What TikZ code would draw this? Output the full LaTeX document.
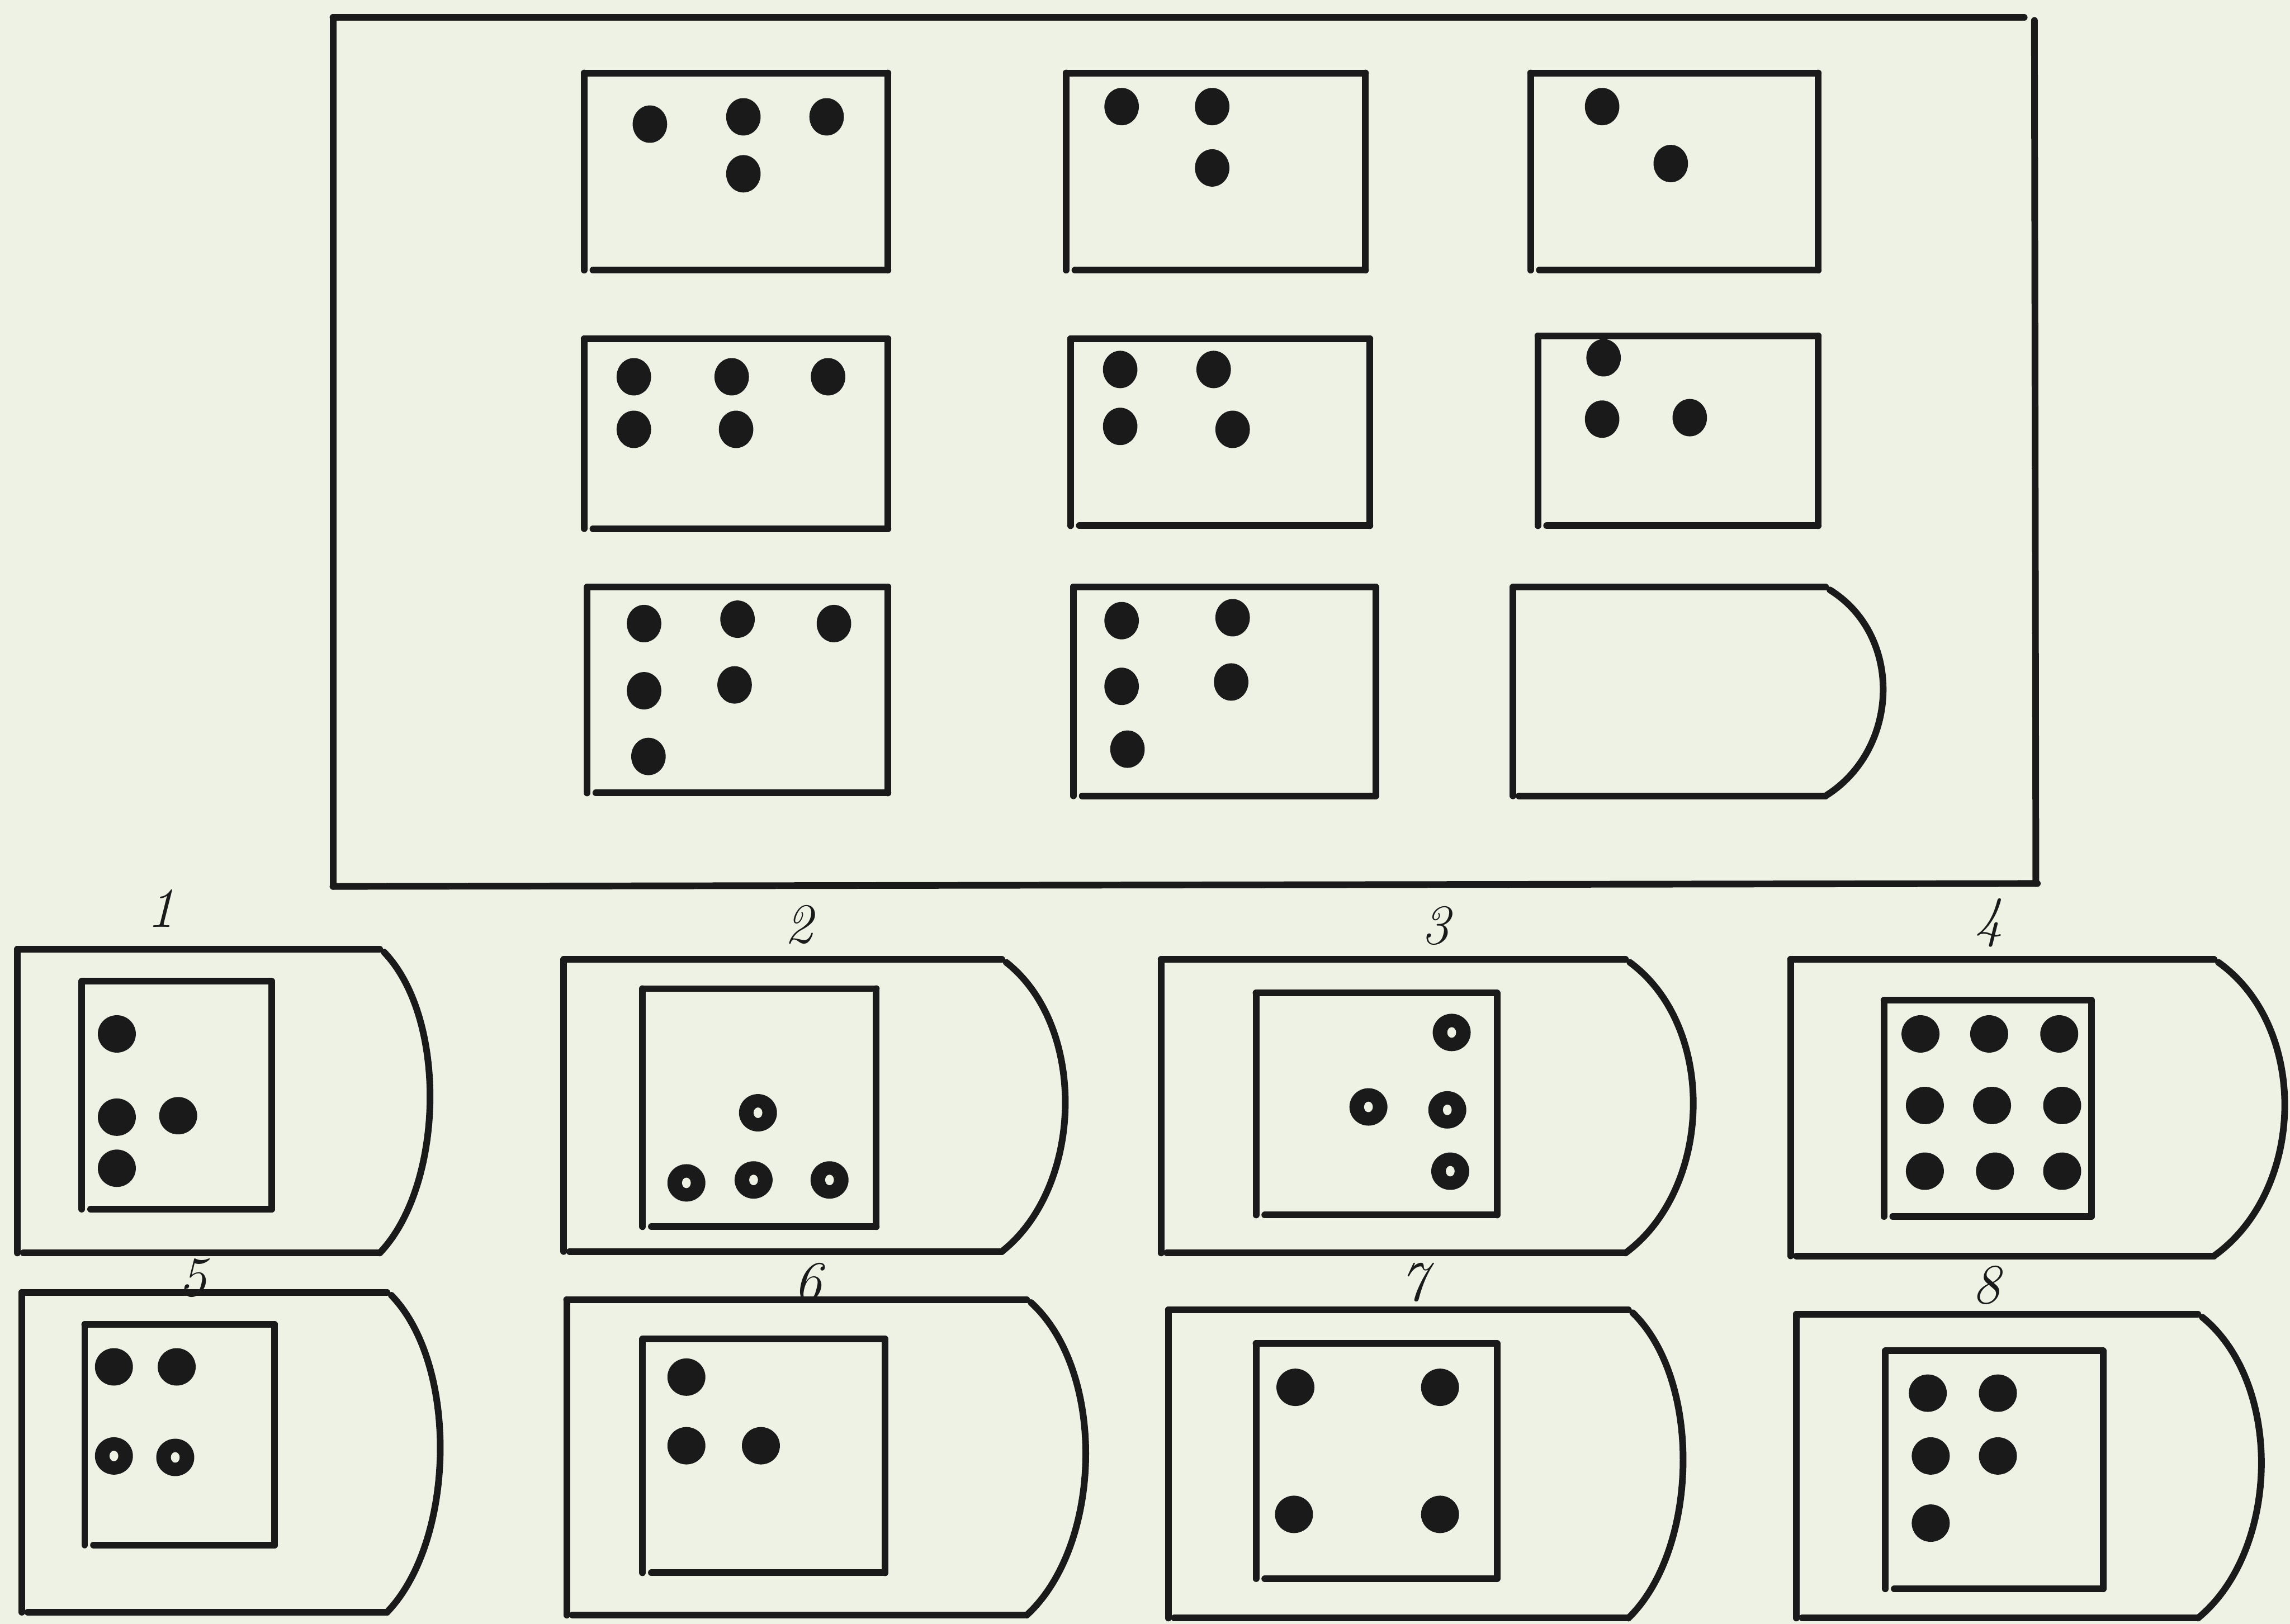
\documentclass[tikz,border=0pt]{standalone}
\usetikzlibrary{calc}
\definecolor{paper}{HTML}{EEF2E4}
\definecolor{ink}{HTML}{1A1A1A}
\tikzset{
  pen/.style={draw=ink, line width=1.3pt, line cap=round},
  dotfill/.style={fill=ink},
  lab/.style={font=\fontsize{11}{12}\selectfont\itshape, text=ink, inner sep=1pt},
}
% cell box: left, top, right, bottom
\newcommand\mcell[4]{%
  \draw[pen] (#1,#2) -- (#3,#2);
  \draw[pen] (#1,#2) -- (#1,#4);
  \draw[pen] (#1+6,#4) -- (#3,#4);
  \draw[pen] (#3,#2) -- (#3,#4);
}
% option card outline: left, top, right, bottom, bulge
\newcommand\ocard[5]{%
  \draw[pen] (#1,#2) -- (#3,#2);
  \draw[pen] (#1,#2) -- (#1,#4);
  \draw[pen] (#1+4,#4) -- (#3,#4);
  \draw[pen] (#3+3,#2+2) .. controls ($(#3+3,#2+2)+(1.33*#5,0.22*#4-0.22*#2)$) and ($(#3,#4)+(1.33*#5,-0.22*#4+0.22*#2)$) .. (#3,#4);
}
% dot in the matrix
\newcommand\bdot[2]{\fill[dotfill] (#1,#2) ellipse [x radius=0.118cm, y radius=0.128cm];}
% dot in the answer cards
\newcommand\adot[2]{\fill[dotfill] (#1,#2) ellipse [x radius=0.13cm, y radius=0.128cm];}
\newcommand\rdot[2]{\fill[dotfill] (#1,#2) ellipse [x radius=0.13cm, y radius=0.128cm];
  \fill[paper] (#1,#2) ellipse [x radius=0.03cm, y radius=0.036cm];}
\begin{document}
\begin{tikzpicture}[x={(0.01cm,0)}, y={(0,-0.01cm)}]
\fill[paper] (0,0) rectangle (1568,1112);
\useasboundingbox (0,0) rectangle (1568,1112);

% outer frame of the matrix
\draw[pen] (228,12) -- (1386,12);
\draw[pen] (228,12) -- (228,607);
\draw[pen] (228,607) -- (1395,605);
\draw[pen] (1393,14) -- (1394,605);

% row 1
\mcell{400}{50}{608}{185}
\bdot{445}{85}\bdot{509}{80}\bdot{566}{80}\bdot{509}{119}
\mcell{730}{50}{935}{185}
\bdot{768}{73}\bdot{830}{73}\bdot{830}{115}
\mcell{1048}{50}{1245}{185}
\bdot{1097}{73}\bdot{1144}{112}
% row 2
\mcell{400}{232}{608}{362}
\bdot{434}{258}\bdot{501}{258}\bdot{567}{258}\bdot{434}{294}\bdot{504}{294}
\mcell{733}{232}{938}{360}
\bdot{767}{253}\bdot{831}{253}\bdot{767}{292}\bdot{844}{294}
\mcell{1053}{230}{1245}{360}
\bdot{1098}{245}\bdot{1097}{287}\bdot{1157}{286}
% row 3
\mcell{402}{402}{608}{543}
\bdot{441}{427}\bdot{505}{424}\bdot{571}{427}\bdot{441}{473}\bdot{503}{469}\bdot{444}{518}
\mcell{735}{402}{942}{545}
\bdot{768}{425}\bdot{844}{423}\bdot{768}{470}\bdot{843}{467}\bdot{772}{513}
\ocard{1036}{402}{1250}{545}{38}

% labels
\node[lab] (l1) at (110,622) {1};
\node[lab] (l2) at (547,633) {2};
\node[lab] (l3) at (983,634) {3};
\node[lab] (l4) at (1362,632) {4};
\node[lab] (l5) at (132,875) {5};
\node[lab] (l6) at (553,878) {6};
\node[lab] (l7) at (968,878) {7};
\node[lab] (l8) at (1360,880) {8};

% option 1
\ocard{12}{650}{260}{858}{33}
\mcell{56}{672}{186}{828}
\adot{80}{708}\adot{80}{765}\adot{122}{764}\adot{80}{800}
% option 2
\ocard{386}{657}{686}{857}{42}
\mcell{440}{677}{600}{840}
\rdot{519}{762}\rdot{470}{810}\rdot{516}{808}\rdot{568}{808}
% option 3
\ocard{795}{657}{1113}{858}{45}
\mcell{860}{680}{1025}{832}
\rdot{994}{707}\rdot{937}{758}\rdot{991}{760}\rdot{993}{802}
% option 4
\ocard{1226}{657}{1516}{860}{47}
\mcell{1290}{685}{1432}{833}
\adot{1315}{708}\adot{1362}{708}\adot{1410}{708}
\adot{1318}{757}\adot{1364}{757}\adot{1412}{757}
\adot{1318}{802}\adot{1366}{802}\adot{1412}{802}
% option 5
\ocard{15}{885}{265}{1104}{35}
\mcell{58}{907}{188}{1058}
\adot{78}{936}\adot{121}{936}\rdot{78}{997}\rdot{120}{998}
% option 6
\ocard{388}{890}{703}{1106}{39}
\mcell{440}{917}{606}{1077}
\adot{470}{943}\adot{470}{990}\adot{521}{990}
% option 7
\ocard{800}{897}{1115}{1108}{36}
\mcell{860}{920}{1025}{1081}
\adot{887}{950}\adot{986}{950}\adot{886}{1037}\adot{986}{1037}
% option 8
\ocard{1230}{900}{1505}{1108}{42}
\mcell{1291}{925}{1440}{1088}
\adot{1320}{954}\adot{1368}{954}\adot{1322}{997}\adot{1368}{997}\adot{1322}{1043}
\end{tikzpicture}
\end{document}
